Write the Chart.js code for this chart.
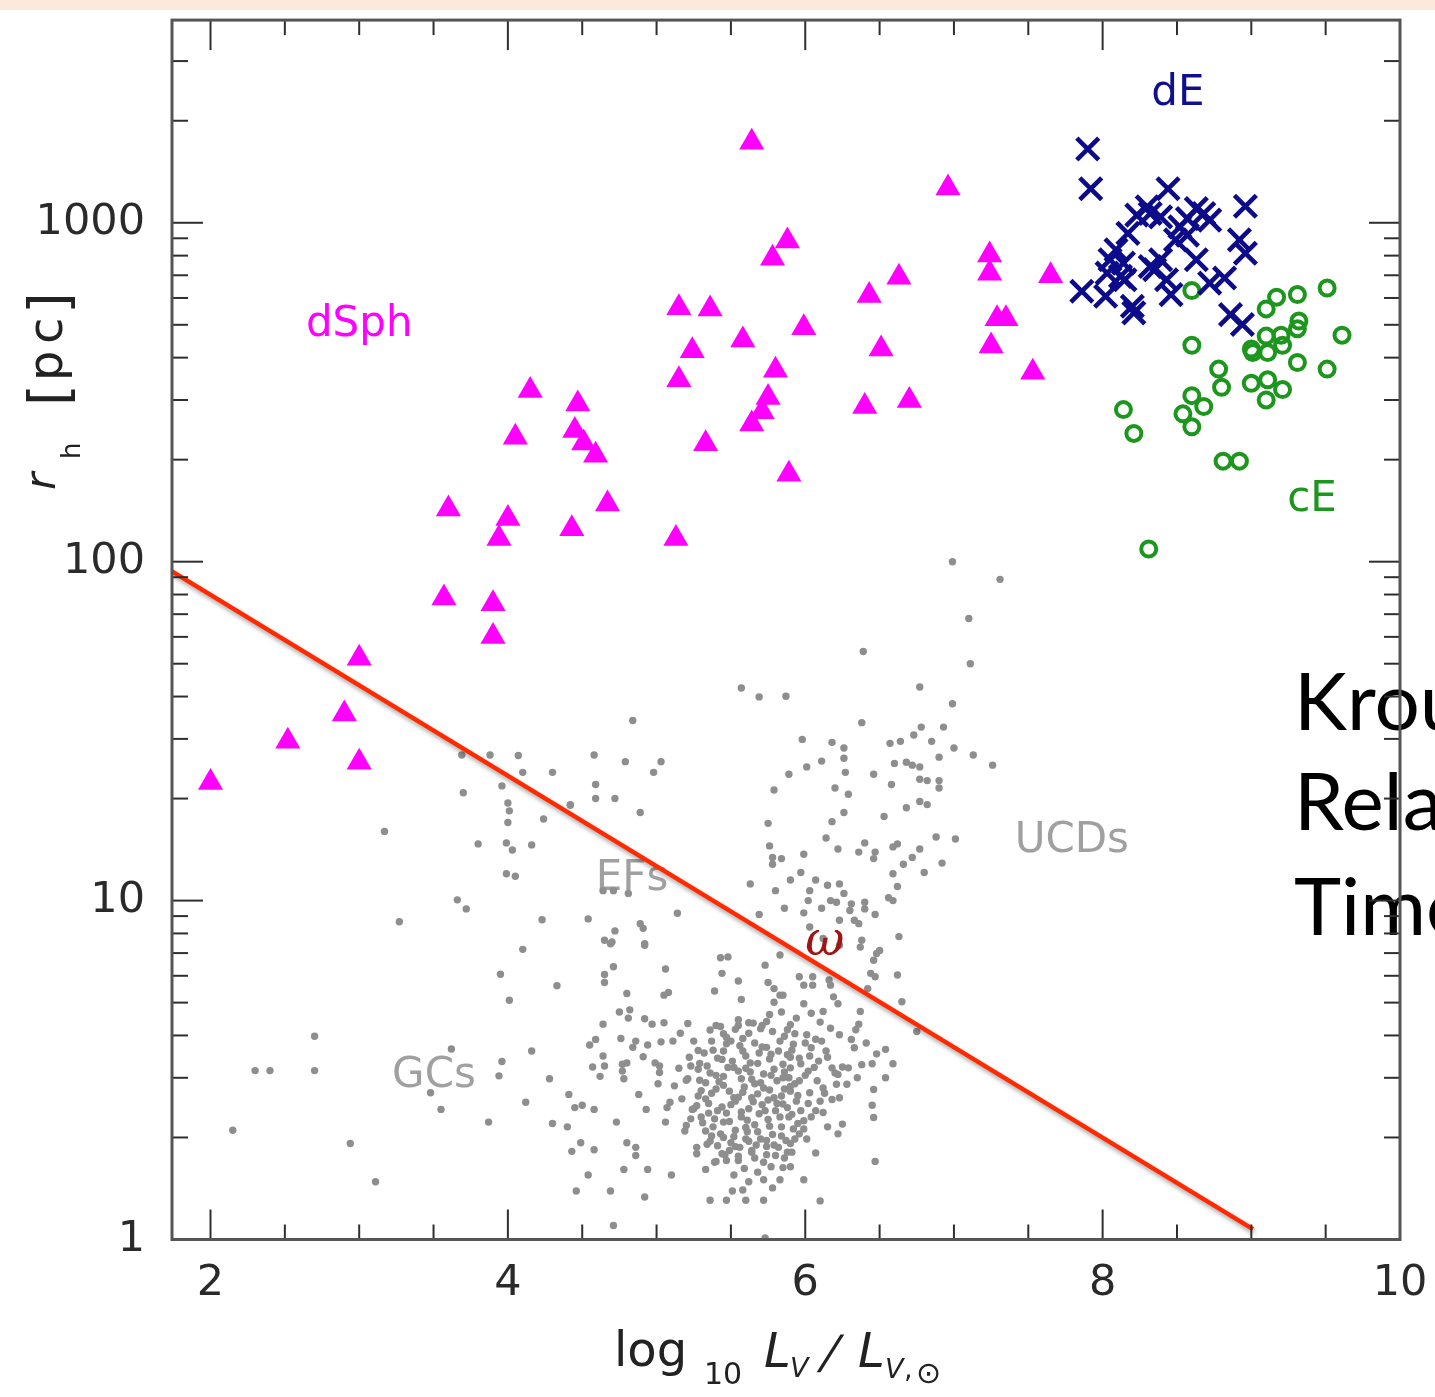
<!DOCTYPE html>
<html><head><meta charset="utf-8">
<script src="https://cdn.jsdelivr.net/npm/chart.js@4.4.1/dist/chart.umd.min.js"></script>
<style>
html,body{margin:0;padding:0;background:#fff;}
#wrap{position:relative;width:1435px;height:1397px;overflow:hidden;background:#fff;}
#band{position:absolute;left:0;top:0;width:1435px;height:10px;background:#fde9dc;}
.slide{position:absolute;left:1294px;font-family:Lato,'Open Sans',sans-serif;font-size:80px;line-height:80px;color:#000;white-space:nowrap;}
canvas{position:absolute;left:0;top:0;}
</style></head>
<body><div id="wrap"><div id="band"></div>
<div class="slide" style="top:659px">Kroupa</div>
<div class="slide" style="top:759px">Relaxation</div>
<div class="slide" style="top:864px">Time</div>
<canvas id="c" width="1435" height="1397" style="width:1435px;height:1397px"></canvas></div>
<script>
// ---- axes ----
const xMin = 1.741, xMax = 10, yMin = 1, yMax = 3963;
const xTickValues = [2, 4, 6, 8, 10];
const xMajorMarks = [2, 4, 6, 8];
const xMinorMarks = [2.5, 3, 3.5, 4.5, 5, 5.5, 6.5, 7, 7.5, 8.5, 9, 9.5];
const yTickValues = [1, 10, 100, 1000];
const yMajorMarks = [10, 100, 1000];
const yMinorMarks = [2,3,4,5,6,7,8,9,20,30,40,50,60,70,80,90,200,300,400,500,600,700,800,900,2000,3000];

// ---- data: [log10 L_V, r_h (pc)] ----
const dsphData = [[4.15,320],[4.47,292],[4.05,233],[4.45,244],[4.51,224],[4.59,206],[3.60,143],[4.00,134],[3.94,117],[4.43,125],[4.67,148],[3.57,78.2],[3.90,75.1],[3.90,60.1],[3.00,51.9],[2.90,35.5],[2.52,29.5],[3.00,25.6],[2.00,22.3],[5.64,1727],[6.96,1266],[5.88,884],[5.78,786],[7.24,804],[7.24,710],[7.65,698],[6.63,691],[6.43,610],[5.15,561],[5.36,557],[5.99,490],[5.58,451],[7.29,521],[7.35,521],[7.25,433],[5.24,419],[6.51,424],[5.80,367],[5.15,344],[7.53,362],[5.75,305],[5.71,277],[5.64,255],[6.40,287],[6.70,299],[5.33,223],[5.89,181],[5.13,117]];

const deData = [[7.90,1651],[7.92,1260],[8.44,1260],[8.96,1119],[8.23,1053],[8.32,1065],[8.39,1041],[8.63,1101],[8.68,1065],[8.72,1018],[8.57,1029],[8.52,973],[8.17,930],[8.49,890],[8.92,890],[8.96,813],[8.05,778],[8.14,760],[8.39,778],[8.35,727],[8.63,778],[8.12,695],[8.03,710],[7.86,628],[8.02,607],[8.15,679],[8.32,743],[8.46,614],[8.20,567],[8.21,542],[8.72,664],[8.82,687],[8.86,536],[8.94,501],[8.57,920],[8.09,832],[8.30,1114],[8.43,679]];

const ceData = [[8.60,631],[9.51,642],[9.31,614],[9.17,603],[9.10,557],[9.32,513],[9.31,487],[9.61,466],[9.20,466],[9.10,463],[9.21,435],[9.00,424],[9.01,414],[9.11,414],[8.60,435],[9.31,387],[9.51,370],[8.78,370],[8.80,327],[9.00,336],[9.11,344],[9.21,322],[9.10,300],[8.60,309],[8.68,287],[8.54,273],[8.60,250],[8.14,281],[8.21,239],[8.81,198],[8.92,198],[8.31,109]];

const gcData = [
[3.69,26.9],[3.88,26.9],[4.07,26.8],[4.10,23.9],[4.30,23.9],[3.70,20.8],[3.96,21.8],[4.00,19.4],[4.01,18.4],[4.00,17.0],
[4.24,17.4],[4.42,19.1],[3.17,16.0],[3.80,14.7],[3.99,14.8],[4.03,14.1],[4.16,14.6],[3.99,12.0],[4.05,11.8],[3.66,10.05],
[3.72,9.45],[3.27,8.66],[4.23,8.78],[4.10,7.18],[3.95,6.06],[4.33,5.61],[4.01,5.08],[2.70,3.98],[2.30,3.15],[2.40,3.15],
[2.70,3.15],[3.62,3.65],[3.96,3.35],[3.94,3.04],[4.16,3.60],[4.28,2.98],[3.48,2.71],[3.55,2.42],[4.12,2.54],[4.41,2.68],
[4.45,2.45],[3.87,2.22],[4.30,2.20],[4.40,2.15],[4.43,1.82],[2.15,2.10],[2.94,1.92],[3.11,1.48],[4.46,1.39],
[6.99,100],[7.31,88.7],[7.10,68.0],[6.39,54.3],[7.11,50.0],[6.77,42.7],[5.57,42.4],[5.69,39.9],[5.87,40.1],[6.99,38.1],
[4.84,34.0],[6.38,33.5],[6.78,32.5],[6.93,32.5],[6.73,30.8],[5.98,29.9],[6.18,29.3],[6.26,28.2],[6.57,29.1],[6.64,29.5],
[6.85,29.5],[7.00,28.2],[6.90,26.5],[6.26,26.3],[7.13,26.9],[7.26,25.1],[4.58,26.9],[4.79,25.7],[5.03,25.7],[4.98,23.9],
[6.11,25.8],[6.01,24.8],[6.60,25.4],[6.68,25.6],[6.72,25.1],[6.77,24.8],[5.89,23.6],[6.27,23.9],[6.46,23.6],[6.77,22.8],
[6.82,22.6],[6.90,22.6],[6.90,21.5],[6.58,22.0],[6.20,21.5],[6.29,20.6],[5.79,21.2],[4.59,22.0],[4.59,20.0],[4.72,20.0],
[4.42,19.2],[4.89,18.2],[6.26,18.2],[6.68,18.8],[6.77,19.6],[6.82,19.2],[6.53,17.7],[5.75,16.9],[6.18,17.1],[6.14,15.3],
[6.88,15.4],[7.01,15.2],[5.76,14.5],[6.22,14.2],[6.40,14.8],[6.36,13.9],[6.59,14.4],[6.62,14.7],[6.77,14.2],[5.99,13.7],
[6.47,13.9],[6.46,13.3],[5.78,13.4],[5.84,13.3],[5.78,12.8],[6.72,13.4],[6.66,12.8],[6.92,12.9],[6.80,12.1],[6.59,12.0],
[5.97,12.1],[5.90,11.5],[6.07,11.5],[5.63,11.2],[6.15,11.1],[6.23,11.2],[6.62,11.0],[5.80,10.7],[6.03,10.7],[6.26,10.5],
[6.02,10.0],[6.17,10.0],[6.21,9.89],[6.31,9.78],[6.40,9.89],[6.56,10.2],[6.59,10.0],[4.64,10.7],[4.71,10.7],[4.81,10.5],
[4.54,8.83],[5.14,9.18],[5.69,9.10],[5.86,9.49],[5.99,9.20],[6.11,9.49],[6.30,9.35],[6.40,9.45],[6.47,9.10],[6.23,8.75],
[6.33,8.75],[6.36,8.55],[6.03,8.36],[4.89,8.55],[4.91,8.28],[4.72,8.14],[4.65,7.64],[4.70,7.55],[4.92,7.46],[6.63,7.83],
[6.38,7.64],[6.12,7.73],[6.23,7.38],[6.50,7.13],
[4.69,7.46],[4.92,7.38],[5.43,6.78],[5.48,6.82],[5.83,6.91],[5.73,6.45],[4.71,6.38],[5.06,6.28],[4.65,6.05],[5.44,6.10],
[5.55,5.79],[4.65,5.73],[5.75,5.73],[5.39,5.41],[4.80,5.32],[5.05,5.26],[5.08,5.36],[5.79,5.50],[5.83,5.26],[5.57,5.11],
[5.79,5.01],[4.75,4.69],[4.82,4.76],[4.81,4.50],[5.76,4.61],[5.84,4.69],[4.92,4.48],[4.97,4.32],[5.05,4.36],[5.21,4.34],
[4.64,4.32],[5.40,4.28],[5.55,4.28],[5.62,4.36],[5.71,4.28],[5.16,4.06],[4.59,3.89],[4.76,3.92],[4.86,3.85],[4.55,3.75],
[4.94,3.75],[5.03,3.83],[5.11,3.85],[4.84,3.69],[5.28,3.61],[4.64,3.48],[4.91,3.46],[4.57,3.23],[4.65,3.25],[4.77,3.29],
[4.80,3.32],[4.99,3.32],[5.02,3.25],[5.15,3.20],[5.23,3.25],[4.62,3.03],[4.77,3.14],[4.78,2.98],[5.02,3.11],[5.28,3.18],
[5.21,2.98],[5.01,2.88],[5.12,2.84],[4.88,2.68],[4.50,2.49],[4.58,2.42],[4.93,2.42],[5.07,2.45],[5.09,2.54],[4.73,2.22],
[5.06,2.22],[5.24,2.42],[5.20,2.17],[5.19,2.09],[4.49,1.93],[4.58,1.84],[4.80,1.93],[4.86,1.87],[4.86,1.77],[5.27,1.87],
[5.27,1.79],[5.34,1.91],[4.54,1.55],[4.78,1.61],[4.94,1.61],[5.10,1.55],[5.33,1.61],[4.69,1.39],[4.92,1.335],[5.36,1.305],
[5.47,1.305],[5.51,1.39],[5.58,1.40],[5.60,1.305],[5.72,1.305],[5.72,1.50],[5.83,1.50],[4.71,1.10],[5.73,1.01],[5.72,1.69],
[5.64,1.81],[5.47,1.71],[5.40,1.70],[5.55,1.71],[5.39,1.69],[5.44,1.79],[5.85,1.63],
[5.43,4.25],[5.53,4.17],[5.62,4.06],[5.70,4.19],[5.78,4.11],[5.86,3.98],[5.37,3.85],[5.47,3.78],[5.56,3.73],[5.66,3.80],
[5.74,3.69],[5.82,3.60],[5.41,3.43],[5.51,3.36],[5.60,3.48],[5.68,3.31],[5.76,3.41],[5.85,3.29],[5.36,3.10],[5.45,3.03],
[5.55,3.14],[5.64,2.97],[5.72,3.08],[5.81,2.94],[5.89,3.00],[5.40,2.78],[5.49,2.74],[5.59,2.82],[5.68,2.69],[5.76,2.76],
[5.84,2.65],[5.35,2.52],[5.44,2.46],[5.53,2.56],[5.62,2.43],[5.71,2.50],[5.80,2.40],[5.88,2.45],[5.39,2.27],[5.49,2.23],
[5.57,2.30],[5.66,2.18],[5.75,2.26],[5.84,2.15],[5.43,2.05],[5.52,2.01],[5.61,2.08],[5.70,1.98],[5.78,2.04],[5.87,1.96],
[5.56,1.87],[5.64,1.83],[5.74,1.88],[5.31,2.21],[5.28,2.65],[5.29,3.31],[5.33,2.09],[5.23,2.27],[5.25,2.43],[5.37,2.02],
[5.41,1.89],[5.49,1.83],[5.80,1.77],[5.47,3.95],[5.58,3.92],[5.69,3.55],[5.52,3.22],[5.60,3.20],[5.79,3.18],[5.42,2.92],
[5.66,2.88],[5.55,2.63],[5.75,2.58],[5.47,2.36],[5.69,2.35],[5.60,2.14],[5.50,1.93],[5.79,1.90],[5.35,2.36],[5.83,2.30],
[5.90,2.83],[5.45,3.60],[5.65,4.35],[5.90,3.45],[5.33,2.90],[5.30,2.75],[5.62,1.95],[5.95,2.20],
[5.32,3.55],[5.38,3.62],[5.44,3.40],[5.50,3.85],[5.58,3.60],[5.63,3.32],[5.71,3.70],[5.77,3.52],[5.83,3.85],[5.91,3.62],
[5.97,3.30],[6.03,3.48],[5.34,3.25],[5.40,3.05],[5.48,3.22],[5.57,2.98],[5.63,3.12],[5.70,2.90],[5.77,3.05],[5.86,3.12],
[5.93,2.88],[6.00,3.05],[6.06,3.22],[5.29,2.95],[5.37,2.70],[5.45,2.85],[5.52,2.62],[5.58,2.72],[5.65,2.55],[5.72,2.80],
[5.79,2.62],[5.86,2.78],[5.95,2.66],[6.02,2.52],[5.27,2.48],[5.33,2.60],[5.41,2.40],[5.50,2.50],[5.57,2.38],[5.64,2.62],
[5.73,2.40],[5.81,2.52],[5.89,2.30],[5.97,2.40],[6.04,2.30],[5.30,2.30],[5.38,2.15],[5.45,2.22],[5.53,2.10],[5.61,2.25],
[5.68,2.08],[5.76,2.16],[5.84,2.02],[5.92,2.12],[5.99,2.12],[5.36,1.95],[5.45,2.00],[5.53,1.88],[5.60,1.98],[5.67,1.90],
[5.74,1.96],[5.82,1.87],[5.90,1.92],[5.46,1.78],[5.55,1.76],[5.66,1.74],[5.74,1.78],[5.86,1.74],[5.59,1.62],[5.68,1.58],
[5.77,1.64],[5.62,1.48],[5.78,1.42],[5.52,1.55],[5.45,4.05],[5.55,4.45],[5.74,4.40],[5.90,4.30],[5.36,4.15],[5.93,4.05],
[5.25,3.85],[5.22,3.45],[5.20,2.95],[5.17,2.60],[6.00,3.80],[6.07,3.90],[6.15,3.45],[6.20,3.10],[6.13,2.70],[6.15,2.15],
[6.37,7.29],[6.48,6.98],[6.46,6.67],[6.44,6.10],[6.47,5.96],[6.62,6.03],[6.42,5.50],[6.65,5.03],[6.19,5.20],[6.22,4.96],
[6.37,4.71],[6.36,4.32],[6.34,4.16],[6.23,4.02],[6.31,3.89],[6.75,4.11],[6.41,3.80],[6.33,3.68],[6.54,3.64],[6.48,3.53],
[6.38,3.28],[6.45,3.30],[6.59,3.30],[6.18,3.21],[6.25,3.23],[6.29,3.21],[6.22,3.07],[6.35,3.00],[6.54,3.00],[6.28,2.87],
[6.21,2.87],[6.46,2.77],[6.23,2.62],[6.18,2.59],[6.12,2.80],[6.45,2.49],[6.46,2.29],[6.07,2.40],[6.12,2.37],[6.25,2.19],
[6.22,2.05],[5.99,2.24],[5.96,2.05],[5.93,1.98],[6.01,1.98],[5.88,1.81],[5.91,1.81],[6.07,1.80],[5.90,1.64],[6.47,1.70],
[5.99,1.50],[6.10,1.30],[5.96,5.96],[6.05,5.96],[6.16,5.83],[5.99,5.63],[6.05,5.63],[6.17,5.63],[5.85,5.26],[5.99,4.96],
[6.04,4.65],[6.12,4.71],[5.94,4.50],[6.10,4.38],[6.17,4.20],[5.88,4.16],[6.01,4.02],[6.11,3.85],[5.92,3.77],[6.04,3.68],
[6.14,3.60],[5.88,3.51],[5.96,3.43],[6.09,3.36],[5.90,3.21],[6.02,3.14],[5.85,3.00],[5.96,2.94],[6.08,2.94],[5.90,2.74],
[6.03,2.71],[5.85,2.51],[5.94,2.56],[5.91,2.34],[6.10,2.56]
];

// relaxation-time line
const lineLogL = [1.741, 9.011];
const lineRh = [93.6, 1.073];

// in-plot labels (data coordinates)
const labelText = ['dSph', 'dE', 'cE', 'UCDs', 'EFs', 'GCs'];
const labelLogL = [3.00, 8.506, 9.408, 7.793, 4.835, 3.503];
const labelRh = [463, 2233, 141, 13.95, 10.72, 2.818];
const labelColor = ['#ff00ff', '#10108c', '#1c961c', '#a0a0a0', '#a0a0a0', '#a0a0a0'];
const omegaLogL = 6.132, omegaRh = 7.50;

const toPts = arr => arr.map(p => ({x: p[0], y: p[1]}));
const FONT = "'DejaVu Sans', sans-serif";

const decor = {
  id: 'decor',
  beforeDatasetsDraw(chart) {
    const {ctx, scales: {x, y}} = chart;
    ctx.save();
    ctx.font = '42px ' + FONT;
    ctx.textAlign = 'center';
    ctx.textBaseline = 'alphabetic';
    labelText.forEach((t, i) => {
      ctx.fillStyle = labelColor[i];
      ctx.fillText(t, x.getPixelForValue(labelLogL[i]), y.getPixelForValue(labelRh[i]));
    });
    ctx.restore();
  },
  beforeDatasetDraw(chart, args) {
    if (args.index === 0) {
      const ctx = chart.ctx;
      ctx.save();
      ctx.shadowColor = 'rgba(0,0,0,0.35)';
      ctx.shadowBlur = 4;
      ctx.shadowOffsetX = 1;
      ctx.shadowOffsetY = 3;
    }
  },
  afterDatasetDraw(chart, args) {
    if (args.index === 0) chart.ctx.restore();
  },
  afterDatasetsDraw(chart) {
    const {ctx, chartArea: a, scales: {x, y}} = chart;
    ctx.save();
    // omega Cen
    ctx.font = 'italic 48px "DejaVu Serif", serif';
    ctx.fillStyle = '#a01414';
    ctx.textAlign = 'center'; ctx.textBaseline = 'middle';
    ctx.fillText('ω', x.getPixelForValue(omegaLogL), y.getPixelForValue(omegaRh));
    // ticks
    const seg = (x1, y1, x2, y2) => { ctx.beginPath(); ctx.moveTo(x1, y1); ctx.lineTo(x2, y2); ctx.stroke(); };
    ctx.strokeStyle = '#2e2e2e'; ctx.lineWidth = 2;
    const xt = (v, len) => { const p = x.getPixelForValue(v); seg(p, a.bottom, p, a.bottom - len); seg(p, a.top, p, a.top + len); };
    const yt = (v, len) => { const p = y.getPixelForValue(v); seg(a.left, p, a.left + len, p); seg(a.right, p, a.right - len, p); };
    xMajorMarks.forEach(v => xt(v, 30));
    xMinorMarks.forEach(v => xt(v, 15));
    yMajorMarks.forEach(v => yt(v, 31));
    yMinorMarks.forEach(v => yt(v, 16));
    // frame
    ctx.strokeStyle = '#555'; ctx.lineWidth = 3;
    ctx.strokeRect(a.left, a.top, a.right - a.left, a.bottom - a.top);
    ctx.restore();
  },
  afterDraw(chart) {
    const ctx = chart.ctx;
    ctx.save();
    ctx.fillStyle = '#222';
    ctx.textAlign = 'left'; ctx.textBaseline = 'alphabetic';
    // x title: log10 L_V / L_V,sun
    const put = (t, f, px, py) => { ctx.font = f; ctx.fillText(t, px, py); };
    put('log', '48px ' + FONT, 614, 1366);
    put('10', '30px ' + FONT, 704, 1384);
    put('L', 'italic 48px ' + FONT, 764, 1367);
    put('V', 'italic 27px ' + FONT, 790, 1377);
    ctx.save(); ctx.transform(1, 0, -0.32, 1, 818, 1368); put('/', '46px ' + FONT, 0, 0); ctx.restore();
    put('L', 'italic 48px ' + FONT, 858, 1367);
    put('V', 'italic 27px ' + FONT, 885, 1378);
    put(',', '27px ' + FONT, 904, 1378);
    put('⊙', '30px ' + FONT, 916, 1383);
    // y title (rotated): r_h [pc]
    ctx.translate(0, 490);
    ctx.rotate(-Math.PI / 2);
    put('r', 'italic 42px ' + FONT, 0, 55);
    put('h', '26px ' + FONT, 31, 80);
    put('[', '56px ' + FONT, 84, 68);
    put('p', '48px ' + FONT, 109, 62);
    put('c', '48px ' + FONT, 146, 62);
    put(']', '56px ' + FONT, 176, 68);
    ctx.restore();
  }
};

const tickFont = {family: FONT, size: 43};

new Chart(document.getElementById('c'), {
  type: 'scatter',
  data: {
    datasets: [
      {label: 'relaxation', data: lineLogL.map((v, i) => ({x: v, y: lineRh[i]})), showLine: true,
       borderColor: '#ff2a00', borderWidth: 4.5, pointRadius: 0, fill: false, order: 0},
      {label: 'dE', data: toPts(deData), pointStyle: 'crossRot', pointRadius: 15.5,
       borderColor: '#0c0c8a', borderWidth: 4.6, backgroundColor: '#0c0c8a', order: 1},
      {label: 'cE', data: toPts(ceData), pointStyle: 'circle', pointRadius: 7.5,
       borderColor: '#1c961c', borderWidth: 4, backgroundColor: 'rgba(0,0,0,0)', order: 2},
      {label: 'dSph', data: toPts(dsphData), pointStyle: 'triangle', pointRadius: 14.5,
       borderWidth: 0, backgroundColor: '#ff00ff', borderColor: '#ff00ff', order: 3},
      {label: 'GCs', data: toPts(gcData), pointStyle: 'circle', pointRadius: 3.7,
       borderWidth: 0, backgroundColor: '#8e8e8e', borderColor: '#8e8e8e', order: 4}
    ]
  },
  options: {
    responsive: false,
    animation: false,
    events: [],
    layout: {padding: {top: 12, right: 35, left: 0, bottom: 0}},
    plugins: {legend: {display: false}, tooltip: {enabled: false}},
    scales: {
      x: {
        type: 'linear', position: 'bottom', min: xMin, max: xMax,
        afterBuildTicks: s => { s.ticks = xTickValues.map(v => ({value: v})); },
        afterFit: s => { s.height = 157.5; s.paddingLeft = 0; s.paddingRight = 0; },
        grid: {display: false, drawTicks: false},
        border: {display: false},
        ticks: {font: tickFont, color: '#2a2a2a', padding: 19, maxRotation: 0, autoSkip: false,
                callback: v => String(v)}
      },
      y: {
        type: 'logarithmic', position: 'left', min: yMin, max: yMax,
        afterBuildTicks: s => { s.ticks = yTickValues.map(v => ({value: v})); },
        afterFit: s => { s.width = 172; s.paddingTop = 0; s.paddingBottom = 0; },
        grid: {display: false, drawTicks: false},
        border: {display: false},
        ticks: {font: tickFont, color: '#2a2a2a', padding: 27, autoSkip: false,
                callback: v => String(v)}
      }
    }
  },
  plugins: [decor]
});
</script>
</body></html>
